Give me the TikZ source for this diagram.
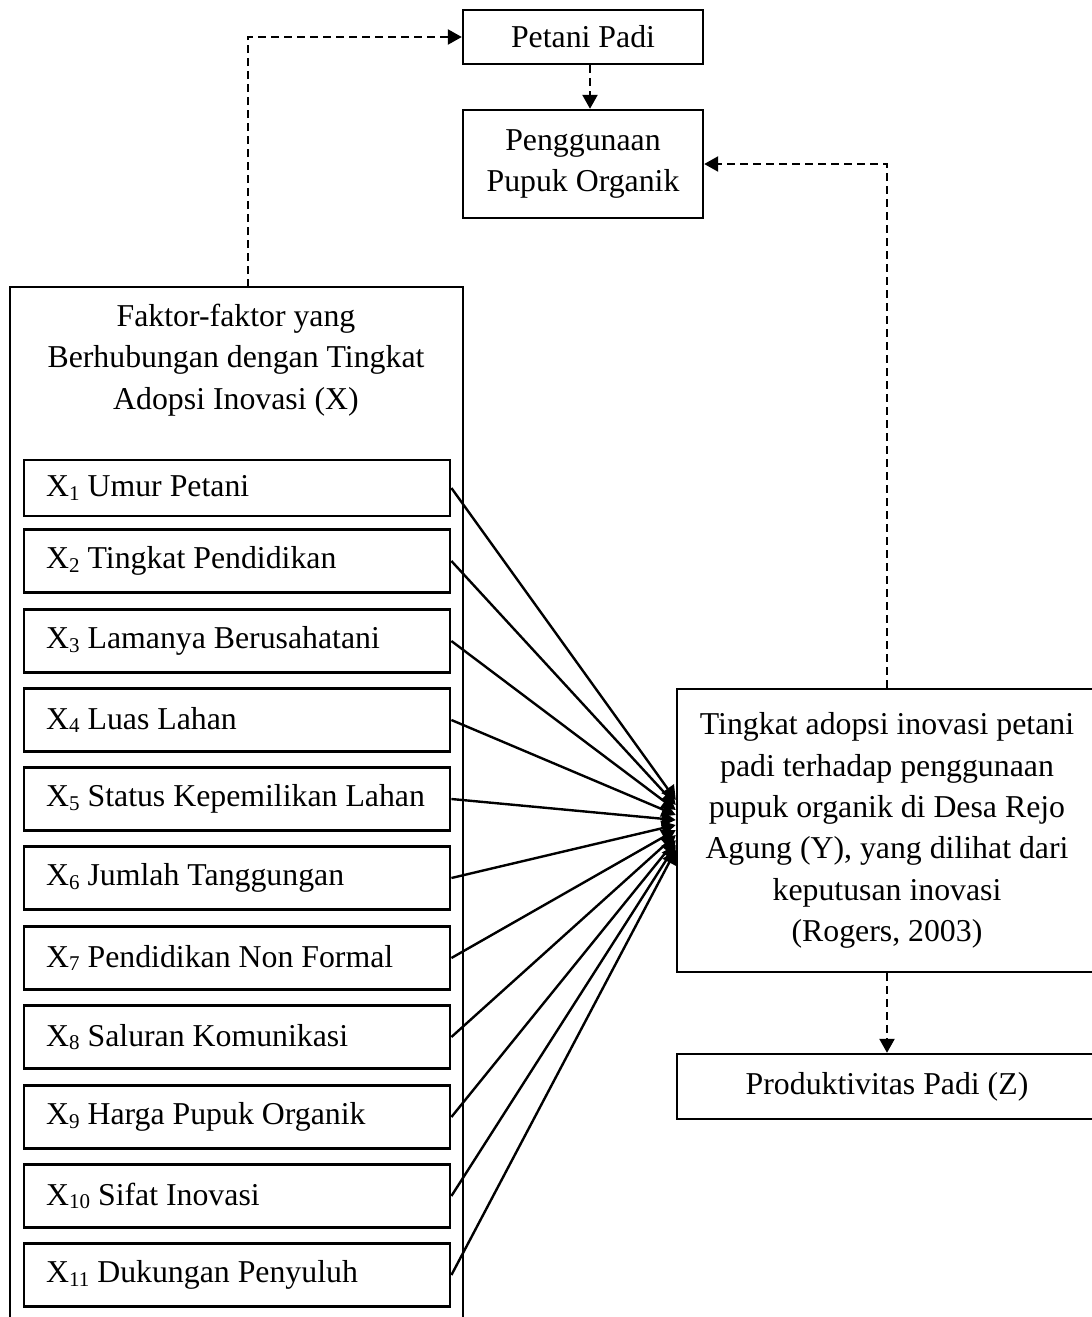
\documentclass[tikz,border=0pt]{standalone}
\usepackage{fontspec}
\setmainfont{Liberation Serif}
\usetikzlibrary{arrows.meta,calc}
\newcommand{\sub}[1]{\raisebox{-0.25ex}{\fontsize{10.5}{10}\selectfont#1}}
\begin{document}
\begin{tikzpicture}[x=0.5pt,y=-0.5pt,line width=1.2pt,font=\fontsize{15.9}{20.7}\selectfont,
  box/.style={draw,align=center,inner sep=0pt},
  varbox/.style={draw,anchor=west,minimum width=213pt,inner xsep=11pt,inner ysep=0pt},
  tip/.style={-{Triangle[length=7pt,width=7.5pt]}},
  dashline/.style={tip,dash pattern=on 4pt off 2.5pt}]

\useasboundingbox (0,0) rectangle (1092,1317);
\clip (0,0) rectangle (1092,1317);

\node[box,minimum width=120pt,minimum height=27pt] (petani) at (583,37) {Petani Padi};
\node[box,minimum width=120pt,minimum height=54pt] (pupuk) at (583,164) {Penggunaan\\Pupuk Organik};

\draw (10,1340) -- (10,287) -- (463,287) -- (463,1340);
\coordinate (faktor) at (248,287);
\node[align=center] (judul) at (236,360) {Faktor-faktor yang\\Berhubungan dengan Tingkat\\Adopsi Inovasi (X)};

\node[box,minimum width=210pt,minimum height=141.5pt] (adopsi) at (887,830.5) {Tingkat adopsi inovasi petani\\padi terhadap penggunaan\\pupuk organik di Desa Rejo\\Agung (Y), yang dilihat dari\\keputusan inovasi\\(Rogers, 2003)};
\node[box,minimum width=210pt,minimum height=32.5pt] (prod) at (887,1086.5) {Produktivitas Padi (Z)};

\foreach \yy/\teks [count=\n] in {488/Umur Petani,561/Tingkat Pendidikan,641/Lamanya Berusahatani,720/Luas Lahan,799/Status Kepemilikan Lahan,878/Jumlah Tanggungan,958/Pendidikan Non Formal,1037/Saluran Komunikasi,1117/Harga Pupuk Organik,1196/Sifat Inovasi,1275/Dukungan Penyuluh}{
  \pgfmathsetmacro\hh{\n==1 ? 28 : 31.5}
  \node[varbox,minimum height=\hh pt] (x\n) at (23,\yy) {\makebox[191pt][l]{X\sub{\n} \teks}};
  \coordinate (masuk\n) at ($(adopsi.west)+(0,{5*\n-35.5})$);
  \draw[tip] (x\n.east) -- (masuk\n);
}

\draw[dashline] (faktor) |- (petani.west);
\draw[dashline] ([xshift=3.5pt]petani.south) -- ([xshift=3.5pt]pupuk.north);
\draw[dashline] (adopsi.north) |- (pupuk.east);
\draw[dashline] (adopsi.south) -- (prod.north);

\end{tikzpicture}
\end{document}
